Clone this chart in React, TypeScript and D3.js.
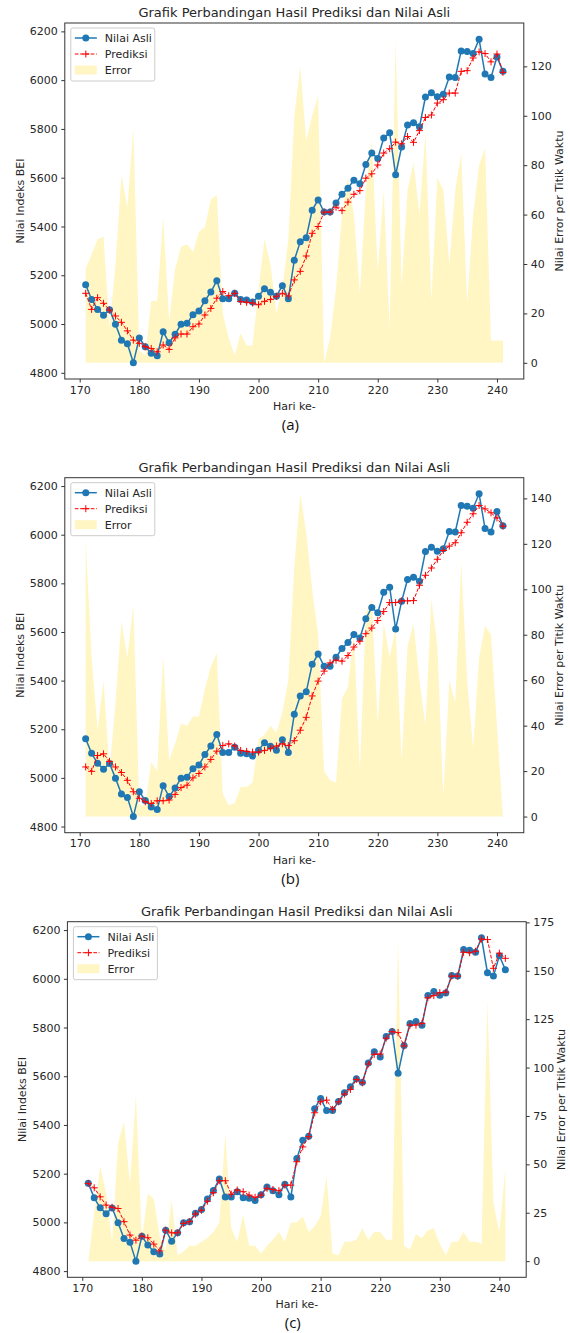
import React, { useEffect, useRef } from 'react';
import * as d3 from 'd3';

// hari ke-171 .. ke-241
const days = d3.range(171, 242);

const nilaiAsli = [
  5161, 5101, 5060, 5036, 5059, 4999, 4934, 4919, 4841, 4943,
  4907, 4880, 4870, 4968, 4923, 4958, 4999, 5003, 5038, 5053,
  5096, 5131, 5178, 5104, 5104, 5126, 5101, 5099, 5090, 5114,
  5145, 5130, 5114, 5157, 5104, 5262, 5337, 5354, 5467, 5509,
  5459, 5459, 5496, 5532, 5557, 5590, 5575, 5654, 5701, 5679,
  5763, 5784, 5612, 5726, 5816, 5825, 5809, 5931, 5948, 5932,
  5942, 6013, 6011, 6120, 6117, 6109, 6168, 6025, 6011, 6095,
  6037,
];

const prediksiA = [
  5126, 5060, 5108, 5085, 5057, 5033, 5007, 4972, 4934, 4921,
  4907, 4900, 4886, 4914, 4896, 4943, 4959, 4959, 4989, 5000,
  5037, 5064, 5106, 5133, 5116, 5126, 5092, 5089, 5086, 5079,
  5093, 5101, 5114, 5126, 5115, 5181, 5216, 5279, 5372, 5400,
  5459, 5459, 5479, 5465, 5500, 5532, 5547, 5598, 5616, 5652,
  5701, 5719, 5746, 5739, 5769, 5745, 5793, 5847, 5857, 5906,
  5920, 5947, 5947, 6036, 6039, 6091, 6116, 6109, 6075, 6107,
  6032,
];

const prediksiB = [
  5045, 5027, 5092, 5099, 5068, 5045, 5022, 4990, 4943, 4916,
  4902, 4895, 4906, 4906, 4909, 4932, 4960, 4970, 5000, 5018,
  5045, 5076, 5110, 5133, 5140, 5131, 5113, 5109, 5106, 5106,
  5113, 5122, 5131, 5140, 5133, 5153, 5196, 5249, 5337, 5398,
  5439, 5473, 5484, 5480, 5503, 5538, 5562, 5593, 5616, 5647,
  5684, 5721, 5721, 5728, 5728, 5729, 5792, 5833, 5863, 5899,
  5935, 5953, 5967, 6008, 6051, 6086, 6120, 6106, 6090, 6069,
  6035,
];

const prediksiC = [
  5160, 5142, 5105, 5071, 5062, 5057, 5003, 4948, 4927, 4944,
  4937, 4911, 4883, 4968, 4957, 4957, 4996, 5003, 5034, 5050,
  5087, 5122, 5171, 5171, 5116, 5133, 5126, 5112, 5103, 5112,
  5140, 5135, 5130, 5153, 5153, 5249, 5310, 5352, 5450, 5495,
  5502, 5464, 5495, 5527, 5546, 5587, 5573, 5650, 5690, 5691,
  5756, 5783, 5779, 5724, 5810, 5810, 5817, 5922, 5931, 5943,
  5945, 6011, 6011, 6109, 6107, 6113, 6163, 6161, 6043, 6105,
  6084,
];

const errorA = [
  38, 44, 50, 51, 14, 40, 76, 63, 95, 5,
  3, 25, 25, 59, 17, 38, 47, 48, 45, 53,
  55, 66, 68, 20, 10, 3, 12, 7, 7, 30,
  50, 40, 20, 30, 50, 100, 120, 90, 100, 108,
  0, 10, 30, 60, 75, 60, 28, 70, 90, 37,
  70, 14, 131, 31, 70, 81, 60, 93, 25, 75,
  70, 40, 70, 85, 24, 60, 80, 87, 9, 9,
  9,
];

const errorB = [
  122, 70, 38, 60, 20, 50, 86, 70, 93, 5,
  5, 24, 20, 71, 25, 32, 41, 40, 44, 44,
  56, 66, 72, 10, 5, 6, 13, 13, 15, 34,
  36, 40, 37, 46, 60, 110, 142, 125, 100, 80,
  20, 16, 15, 52, 57, 80, 20, 90, 95, 41,
  85, 70, 83, 25, 75, 85, 60, 40, 96, 75,
  9, 60, 50, 112, 60, 30, 70, 84, 80, 40,
  0,
];

const errorC = [
  0, 25, 49, 35, 10, 61, 72, 40, 86, 11,
  35, 32, 13, 5, 32, 3, 5, 8, 8, 10,
  12, 15, 20, 66, 17, 10, 24, 8, 8, 4,
  8, 11, 15, 10, 20, 20, 23, 15, 18, 23,
  44, 4, 3, 10, 10, 11, 17, 11, 15, 15,
  11, 11, 167, 8, 6, 14, 12, 16, 17, 9,
  3, 10, 10, 15, 10, 10, 9, 135, 30, 15,
  48,
];

const xTicks = [170, 180, 190, 200, 210, 220, 230, 240];
const yTicks = [4800, 5000, 5200, 5400, 5600, 5800, 6000, 6200];
const errTicksA = [0, 20, 40, 60, 80, 100, 120];
const errTicksB = [0, 20, 40, 60, 80, 100, 120, 140];
const errTicksC = [0, 25, 50, 75, 100, 125, 150, 175];

const judul = 'Grafik Perbandingan Hasil Prediksi dan Nilai Asli';
const legendLabels = ['Nilai Asli', 'Prediksi', 'Error'];

const panels = [
  { pred: prediksiA, err: errorA, errTicks: errTicksA, caption: '(a)', left: 64.8, right: 523.8, top: 23, bottom: 379 },
  { pred: prediksiB, err: errorB, errTicks: errTicksB, caption: '(b)', left: 64.8, right: 523.8, top: 477.7, bottom: 832.7 },
  { pred: prediksiC, err: errorC, errTicks: errTicksC, caption: '(c)', left: 67.4, right: 526.2, top: 921.7, bottom: 1277.3 },
];

const FONT = 'DejaVu Sans, sans-serif';
const BLUE = '#1f77b4';
const RED = '#ff0000';
const YELLOW = '#fff6c4';
const INK = '#262626';

const drawPanel = (svg, p) => {
  const x = d3.scaleLinear()
      .domain([days[0] - 3.5, days[days.length - 1] + 3.5])
      .range([p.left, p.right]);
  const all = nilaiAsli.concat(p.pred);
  const lo = d3.min(all);
  const hi = d3.max(all);
  const pad = (hi - lo) * 0.05;
  const y = d3.scaleLinear().domain([lo - pad, hi + pad]).range([p.bottom, p.top]);
  const emax = d3.max(p.err);
  const y2 = d3.scaleLinear().domain([-emax * 0.05, emax * 1.05]).range([p.bottom, p.top]);

  const g = svg.append('g');
  const cx = (p.left + p.right) / 2;
  const cy = (p.top + p.bottom) / 2;

  // error area (sumbu kanan)
  g.append('path')
      .datum(p.err)
      .attr('d', d3.area()
          .x((d, i) => x(days[i]))
          .y0(y2(0))
          .y1((d) => y2(d)))
      .attr('fill', YELLOW);

  // nilai asli
  g.append('path')
      .datum(nilaiAsli)
      .attr('d', d3.line().x((d, i) => x(days[i])).y((d) => y(d)))
      .attr('fill', 'none')
      .attr('stroke', BLUE)
      .attr('stroke-width', 1.5);
  g.append('g')
      .selectAll('circle')
      .data(nilaiAsli)
      .enter()
      .append('circle')
      .attr('cx', (d, i) => x(days[i]))
      .attr('cy', (d) => y(d))
      .attr('r', 3.5)
      .attr('fill', BLUE);

  // prediksi
  g.append('path')
      .datum(p.pred)
      .attr('d', d3.line().x((d, i) => x(days[i])).y((d) => y(d)))
      .attr('fill', 'none')
      .attr('stroke', RED)
      .attr('stroke-width', 1)
      .attr('stroke-dasharray', '3.7,1.6');
  g.append('g')
      .selectAll('path')
      .data(p.pred)
      .enter()
      .append('path')
      .attr('d', (d, i) => {
        const px = x(days[i]);
        const py = y(d);
        return `M${px - 3.5},${py}H${px + 3.5}M${px},${py - 3.5}V${py + 3.5}`;
      })
      .attr('stroke', RED)
      .attr('stroke-width', 1);

  // frame
  g.append('rect')
      .attr('x', p.left)
      .attr('y', p.top)
      .attr('width', p.right - p.left)
      .attr('height', p.bottom - p.top)
      .attr('fill', 'none')
      .attr('stroke', '#333')
      .attr('stroke-width', 1);

  const styleAxis = (a) => {
    a.select('.domain').remove();
    a.selectAll('line').attr('stroke', '#333');
    a.selectAll('text')
        .attr('fill', INK)
        .style('font-family', FONT)
        .style('font-size', '11px');
  };

  g.append('g')
      .attr('transform', `translate(0,${p.bottom})`)
      .call(d3.axisBottom(x).tickValues(xTicks).tickSize(3.5).tickPadding(3.5).tickFormat(d3.format('d')))
      .call(styleAxis);
  g.append('g')
      .attr('transform', `translate(${p.left},0)`)
      .call(d3.axisLeft(y).tickValues(yTicks).tickSize(3.5).tickPadding(3.5).tickFormat(d3.format('d')))
      .call(styleAxis);
  g.append('g')
      .attr('transform', `translate(${p.right},0)`)
      .call(d3.axisRight(y2).tickValues(p.errTicks).tickSize(3.5).tickPadding(3.5).tickFormat(d3.format('d')))
      .call(styleAxis);

  // judul dan label
  g.append('text')
      .attr('x', cx)
      .attr('y', p.top - 6)
      .attr('text-anchor', 'middle')
      .style('font-family', FONT)
      .style('font-size', '13px')
      .attr('fill', INK)
      .text(judul);
  g.append('text')
      .attr('x', cx)
      .attr('y', p.bottom + 31)
      .attr('text-anchor', 'middle')
      .style('font-family', FONT)
      .style('font-size', '11px')
      .attr('fill', INK)
      .text('Hari ke-');
  g.append('text')
      .attr('x', cx - 4)
      .attr('y', p.bottom + 51)
      .attr('text-anchor', 'middle')
      .style('font-family', 'Open Sans, sans-serif')
      .style('font-size', '15px')
      .attr('fill', '#111')
      .text(p.caption);
  g.append('text')
      .attr('transform', `translate(${p.left - 41},${cy}) rotate(-90)`)
      .attr('text-anchor', 'middle')
      .style('font-family', FONT)
      .style('font-size', '11px')
      .attr('fill', INK)
      .text('Nilai Indeks BEI');
  g.append('text')
      .attr('transform', `translate(${p.right + 39},${cy}) rotate(-90)`)
      .attr('text-anchor', 'middle')
      .style('font-family', FONT)
      .style('font-size', '11px')
      .attr('fill', INK)
      .text('Nilai Error per Titik Waktu');

  // legend
  const lx = p.left + 6;
  const ly = p.top + 5;
  const lg = g.append('g').attr('transform', `translate(${lx},${ly})`);
  lg.append('rect')
      .attr('width', 84)
      .attr('height', 53)
      .attr('rx', 2)
      .attr('fill', 'rgba(255,255,255,0.8)')
      .attr('stroke', '#cccccc');
  const rowY = [10, 26, 42];
  lg.append('line')
      .attr('x1', 4).attr('x2', 26).attr('y1', rowY[0]).attr('y2', rowY[0])
      .attr('stroke', BLUE).attr('stroke-width', 1.5);
  lg.append('circle').attr('cx', 15).attr('cy', rowY[0]).attr('r', 3.5).attr('fill', BLUE);
  lg.append('line')
      .attr('x1', 4).attr('x2', 26).attr('y1', rowY[1]).attr('y2', rowY[1])
      .attr('stroke', RED).attr('stroke-width', 1).attr('stroke-dasharray', '3.7,1.6');
  lg.append('path')
      .attr('d', `M11.5,${rowY[1]}H18.5M15,${rowY[1] - 3.5}V${rowY[1] + 3.5}`)
      .attr('stroke', RED).attr('stroke-width', 1);
  lg.append('rect')
      .attr('x', 4).attr('y', rowY[2] - 4.5).attr('width', 22).attr('height', 9)
      .attr('fill', YELLOW);
  lg.selectAll('text.leg')
      .data(legendLabels)
      .enter()
      .append('text')
      .attr('class', 'leg')
      .attr('x', 34)
      .attr('y', (d, i) => rowY[i] + 4)
      .style('font-family', FONT)
      .style('font-size', '11px')
      .attr('fill', INK)
      .text((d) => d);
};

export default function App() {
  const ref = useRef(null);

  useEffect(() => {
    const svg = d3.select(ref.current);
    svg.selectAll('*').remove();
    panels.forEach((p) => drawPanel(svg, p));
  }, []);

  return (
    <svg
      ref={ref}
      width={570}
      height={1333}
      style={{ position: 'absolute', left: 0, top: 0, background: '#fff' }}
    />
  );
}
